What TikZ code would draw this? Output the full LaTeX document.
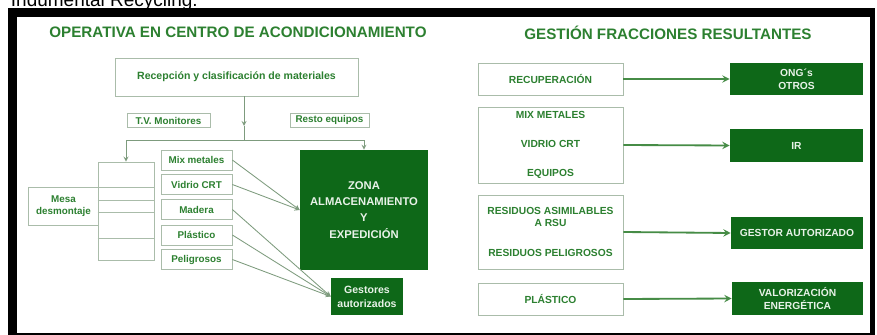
\documentclass[tikz,border=0pt]{standalone}
\usepackage{fontspec}
\setmainfont{Liberation Sans}

\definecolor{verdeoscuro}{RGB}{14,104,24}
\definecolor{verdetexto}{RGB}{44,128,48}
\definecolor{borde}{RGB}{170,188,170}
\definecolor{gris}{RGB}{125,155,125}
\definecolor{verdeflecha}{RGB}{70,140,70}
\definecolor{blancoverde}{RGB}{232,242,232}

\begin{document}
\begin{tikzpicture}[x=0.025cm,y=-0.025cm,
    caja/.style={draw=borde,line width=0.5pt,fill=white,text=verdetexto,align=center,inner sep=0pt,font=\bfseries\fontsize{7}{8.4}\selectfont},
    cajader/.style={caja,minimum width=3.625cm,font=\bfseries\fontsize{7.3}{8.8}\selectfont},
    cajaverde/.style={fill=verdeoscuro,text=blancoverde,align=center,inner sep=0pt,font=\bfseries\fontsize{7.3}{9.5}\selectfont},
    titulo/.style={text=verdetexto,font=\bfseries\fontsize{10.8}{13}\selectfont},
    linea/.style={draw=gris,line width=0.6pt},
    flecha/.style={linea,->,>=stealth},
    flechagruesa/.style={draw=verdeflecha,line width=1.3pt,->,>=stealth}]

    % marco
    \useasboundingbox (0,0) rectangle (877,335);
    \fill[black] (8,8) rectangle (875,335);
    \fill[white] (17,17) rectangle (870,333);
    \node[anchor=base west,font=\fontsize{13.5}{16}\selectfont] (cabecera) at (6,6) {Indumental Recycling.};

    % operativa en centro de acondicionamiento
    \node[titulo] (tit1) at (238,32) {OPERATIVA EN CENTRO DE ACONDICIONAMIENTO};
    \node[caja,minimum width=6.075cm,minimum height=0.95cm,font=\bfseries\fontsize{7.5}{9}\selectfont] (recep) at (236.5,77) {Recepción y clasificación de materiales};
    \node[caja,minimum width=2.075cm,minimum height=0.35cm] (tv) at (168.5,120.5) {T.V. Monitores};
    \node[caja,minimum width=1.975cm,minimum height=0.35cm] (resto) at (329.5,120) {Resto equipos};
    \coordinate (bif) at (244,140);
    \coordinate (medio) at (244,126);
    \draw[flecha] (recep.south -| bif) -- (medio);
    \draw[linea] (medio) -- (bif);

    \node[caja,minimum width=1.775cm,minimum height=0.95cm] (mesa) at (63.5,206) {Mesa\\desmontaje};
    \node[caja,minimum width=1.4cm,minimum height=2.45cm] (pila) at (126,211) {};
    \foreach \y in {187,200,212,238}
        \draw[draw=borde,line width=0.5pt] (pila.west |- 0,\y) -- (pila.east |- 0,\y);

    \node[caja,minimum width=1.775cm,minimum height=0.5cm] (mix) at (196.5,160) {Mix metales};
    \node[caja,minimum width=1.775cm,minimum height=0.5cm] (vidrio) at (196.5,184.5) {Vidrio CRT};
    \node[caja,minimum width=1.775cm,minimum height=0.5cm] (madera) at (196.5,209.5) {Madera};
    \node[caja,minimum width=1.775cm,minimum height=0.5cm] (plastico) at (196.5,235) {Plástico};
    \node[caja,minimum width=1.775cm,minimum height=0.5cm] (peligrosos) at (196.5,259.5) {Peligrosos};

    \node[cajaverde,minimum width=3.2cm,minimum height=3cm,font=\bfseries\fontsize{8}{11.5}\selectfont] (zona) at (364,210) {ZONA\\ALMACENAMIENTO\\Y\\EXPEDICIÓN};
    \node[cajaverde,minimum width=1.8cm,minimum height=0.925cm,font=\bfseries\fontsize{7.5}{10}\selectfont] (gestores) at (367,296.5) {Gestores\\autorizados};

    \draw[flecha] (bif) -| (pila.north);
    \draw[flecha] (bif) -| (zona.north);
    \draw[flecha] (mix.east) -- (zona.west);
    \draw[flecha] (vidrio.east) -- (zona.west);
    \draw[flecha] (madera.east) -- (gestores.west);
    \draw[flecha] (plastico.east) -- (gestores.west);
    \draw[flecha] (peligrosos.east) -- (gestores.west);

    % gestion fracciones resultantes
    \node[titulo] (tit2) at (668,33) {GESTIÓN FRACCIONES RESULTANTES};
    \node[cajader,minimum height=0.8cm] (recup) at (550.5,79) {RECUPERACIÓN};
    \node[cajader,minimum height=1.9cm] (metales) at (550.5,145) {MIX METALES\\[4.2mm]VIDRIO CRT\\[4.2mm]EQUIPOS};
    \node[cajader,minimum height=1.85cm] (residuos) at (550.5,232) {RESIDUOS ASIMILABLES\\A RSU\\[4.4mm]RESIDUOS PELIGROSOS};
    \node[cajader,minimum height=0.8cm] (plast) at (550.5,299) {PLÁSTICO};

    \node[cajaverde,minimum width=3.325cm,minimum height=0.8cm] (ong) at (796.5,79) {ONG´s\\OTROS};
    \node[cajaverde,minimum width=3.325cm,minimum height=0.825cm] (ir) at (796.5,145.5) {IR};
    \node[cajaverde,minimum width=3.3cm,minimum height=0.8cm] (gestor) at (797,233) {GESTOR AUTORIZADO};
    \node[cajaverde,minimum width=3.275cm,minimum height=0.825cm] (valor) at (797.5,298.5) {VALORIZACIÓN\\ENERGÉTICA};

    \draw[flechagruesa] (recup.east) -- (ong.west);
    \draw[flechagruesa] (metales.east) -- (ir.west);
    \draw[flechagruesa] (residuos.east) -- (gestor.west);
    \draw[flechagruesa] (plast.east) -- (valor.west);
\end{tikzpicture}
\end{document}
